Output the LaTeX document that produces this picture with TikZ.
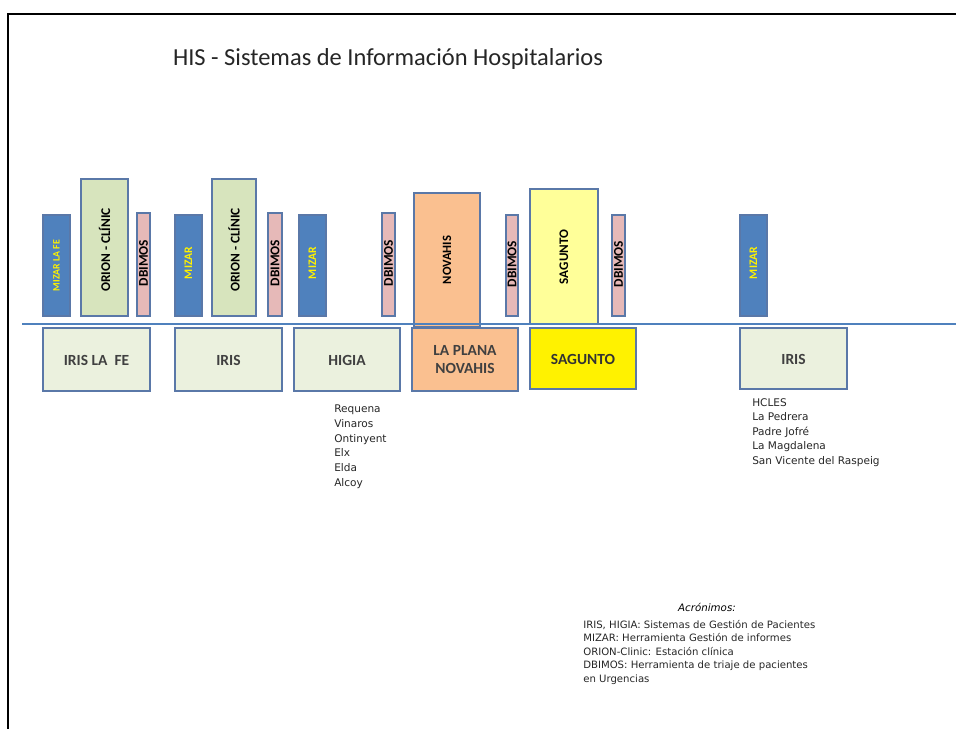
\documentclass[tikz,border=0pt]{standalone}
\usepackage{fontspec}
\setmainfont{Carlito}
\newfontfamily\listafont{DejaVu Sans}
\definecolor{mizarblue}{HTML}{4F81BD}
\definecolor{orionverde}{HTML}{D7E4BD}
\definecolor{dbimosrosa}{HTML}{E6B9B8}
\definecolor{novahisnaranja}{HTML}{FAC090}
\definecolor{saguntoclaro}{HTML}{FFFF99}
\definecolor{irisfondo}{HTML}{EBF1DE}
\definecolor{borde}{HTML}{5A78A8}
\definecolor{gristexto}{HTML}{404040}
\tikzset{
  caja/.style={draw=borde, line width=0.9pt},
  mizar/.style={caja, fill=mizarblue},
  orion/.style={caja, fill=orionverde},
  dbimos/.style={caja, fill=dbimosrosa},
  novahis/.style={caja, fill=novahisnaranja},
  sagunto/.style={caja, fill=saguntoclaro},
  base/.style={caja, fill=irisfondo},
  vtexto/.style={font=\bfseries\fontsize{#1}{#1}\selectfont, inner sep=0pt, rotate=90},
  vtexto/.default=9,
  btexto/.style={font=\bfseries\fontsize{11}{12.8}\selectfont, text=gristexto, align=center},
  lista/.style={font=\listafont\fontsize{7.5}{10.4}\selectfont, align=left, inner sep=0pt, anchor=north west, text=black!85}
}

\begin{document}
\begin{tikzpicture}[x=0.025cm,y=-0.025cm]
\useasboundingbox (0,0) rectangle (956,729);
\draw[line width=1.4pt] (956,14) -- (8,14) -- (8,729);
\node[font=\fontsize{17.4}{20}\selectfont, text=black!85] (titulo) at (388,59) {HIS - Sistemas de Información Hospitalarios};

% IRIS LA FE
\draw[mizar] (43,215) rectangle (70,316);
\node[vtexto=7, text=yellow] (mizarfe) at (56.5,265.5) {MIZAR LA FE};
\draw[orion] (81,179) rectangle (128,316);
\node[vtexto=9.5] (orionfe) at (104.5,250) {ORION - CLÍNIC};
\draw[dbimos] (137,213) rectangle (150,316);
\node[vtexto=9.5] (dbimosfe) at (143.5,263) {DBIMOS};
\draw[base] (43,328) rectangle (150,391);
\node[btexto] (irisfe) at (96.5,360) {IRIS LA\ \ FE};

% IRIS
\draw[mizar] (175,215) rectangle (202,316);
\node[vtexto=8.2, text=yellow] (mizariris) at (188.5,263) {MIZAR};
\draw[orion] (212,179) rectangle (256,316);
\node[vtexto=9.5] (orioniris) at (234,250) {ORION - CLÍNIC};
\draw[dbimos] (268,213) rectangle (282,316);
\node[vtexto=9.5] (dbimosiris) at (275,263) {DBIMOS};
\draw[base] (175,328) rectangle (282,391);
\node[btexto] (iris) at (228.5,360) {IRIS};

% HIGIA
\draw[mizar] (299,215) rectangle (326,316);
\node[vtexto=8.2, text=yellow] (mizarhigia) at (312.5,263) {MIZAR};
\draw[dbimos] (382,213) rectangle (395,316);
\node[vtexto=9.5] (dbimoshigia) at (388.5,263) {DBIMOS};
\draw[base] (294,328) rectangle (400,391);
\node[btexto] (higia) at (347,360) {HIGIA};
\node[lista] (listahigia) at (334,405) {Requena\\Vinaros\\Ontinyent\\Elx\\Elda\\Alcoy};

% LA PLANA
\draw[novahis] (414,193) rectangle (480,327);
\node[vtexto=9] (novahis) at (447,260) {NOVAHIS};
\draw[dbimos] (506,215) rectangle (518,316);
\node[vtexto=9.5] (dbimosplana) at (512,264) {DBIMOS};
\draw[caja, fill=novahisnaranja] (412,328) rectangle (518,391);
\node[btexto] (laplana) at (465,360) {LA PLANA\\NOVAHIS};

% SAGUNTO
\draw[sagunto] (530,189) rectangle (598,324);
\node[vtexto=9.3] (saguntov) at (564,257) {SAGUNTO};
\draw[dbimos] (612,215) rectangle (625,316);
\node[vtexto=9.5] (dbimossag) at (618.5,264) {DBIMOS};
\draw[caja, fill=yellow] (530,328) rectangle (636,389);
\node[btexto, text=black!80] (sagunto) at (583,359) {SAGUNTO};

% IRIS (resto)
\draw[mizar] (740,215) rectangle (767,316);
\node[vtexto=8.2, text=yellow] (mizarresto) at (753.5,263) {MIZAR};
\draw[base] (740,328) rectangle (847,389);
\node[btexto] (irisresto) at (793.5,359) {IRIS};
\node[lista] (listairis) at (752,398) {HCLES\\La Pedrera\\Padre Jofré\\La Magdalena\\San Vicente del Raspeig};

\draw[mizarblue, line width=1pt] (22,324) -- (956,324);

% acronimos
\node[font=\listafont\itshape\fontsize{7.3}{10}\selectfont] (acronimos) at (707,607) {Acrónimos:};
\node[lista, font=\listafont\fontsize{7.2}{9.6}\selectfont] (leyenda) at (583,620) {IRIS, HIGIA: Sistemas de Gestión de Pacientes\\MIZAR: Herramienta Gestión de informes\\ORION-Clinic: Estación clínica\\DBIMOS: Herramienta de triaje de pacientes\\en Urgencias};
\end{tikzpicture}
\end{document}
